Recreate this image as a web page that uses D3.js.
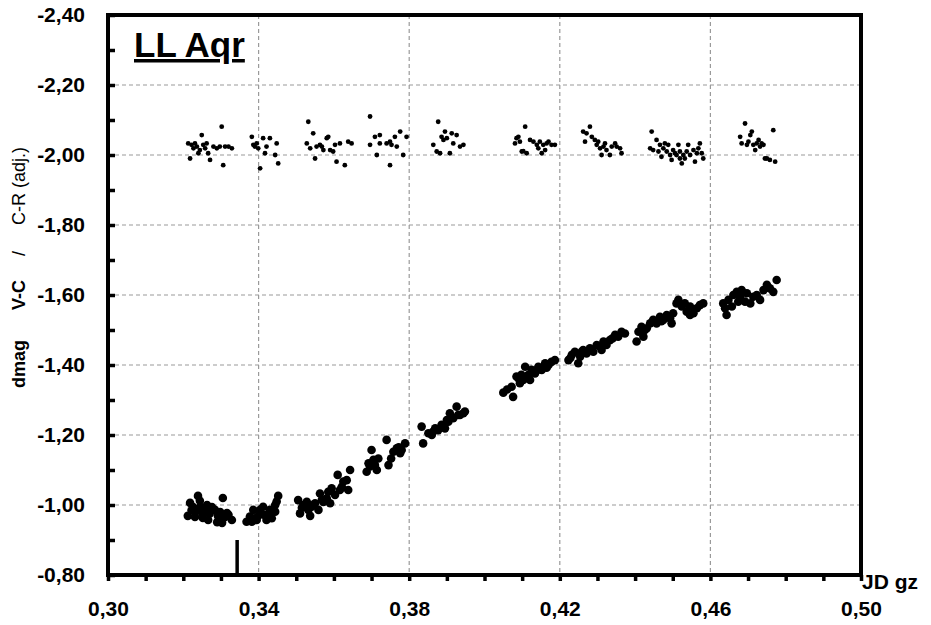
<!DOCTYPE html>
<html>
<head>
<meta charset="utf-8">
<script src="https://cdn.jsdelivr.net/npm/d3@7"></script>
<style>
  body { margin: 0; background: #fff; }
  svg { display: block; font-family: "Liberation Sans", Arial, sans-serif; }
</style>
</head>
<body>
<div id="chart"></div>
<script>
var svgWidth = 931;
var svgHeight = 625;

// plot area edges in pixels
var plot = { left: 108, right: 861, top: 15, bottom: 575 };

// tick values
var xTicks = [0.30, 0.31, 0.32, 0.33, 0.34, 0.35, 0.36, 0.37, 0.38, 0.39, 0.40,
              0.41, 0.42, 0.43, 0.44, 0.45, 0.46, 0.47, 0.48, 0.49, 0.50];
var xLabelTicks = [0.30, 0.34, 0.38, 0.42, 0.46, 0.50];
var yTicks = [-2.40, -2.30, -2.20, -2.10, -2.00, -1.90, -1.80, -1.70, -1.60,
              -1.50, -1.40, -1.30, -1.20, -1.10, -1.00, -0.90, -0.80];
var yLabelTicks = [-2.40, -2.20, -2.00, -1.80, -1.60, -1.40, -1.20, -1.00, -0.80];

// V-C (variable) measurements: [JD fraction, dmag]
var vcData = [
  [0.3239,-1.026],[0.3218,-1.006],[0.3226,-0.994],[0.3212,-0.969],[0.3236,-0.986],[0.3250,-0.977],
  [0.3263,-1.000],[0.3276,-0.994],[0.3266,-0.957],[0.3284,-0.986],[0.3292,-0.969],[0.3305,-1.020],
  [0.3303,-0.949],[0.3316,-0.977],[0.3329,-0.957],[0.3231,-0.966],[0.3252,-0.963],[0.3290,-0.951],
  [0.3222,-0.985],[0.3245,-0.995],[0.3258,-0.985],[0.3270,-0.975],[0.3298,-0.980],[0.3310,-0.965],
  [0.3320,-0.972],[0.3244,-1.012],
  [0.3368,-0.952],[0.3377,-0.967],[0.3386,-0.986],[0.3395,-0.957],[0.3404,-0.986],[0.3412,-0.995],
  [0.3417,-0.971],[0.3430,-0.986],[0.3435,-0.962],[0.3444,-0.981],[0.3452,-1.026],[0.3444,-1.000],
  [0.3382,-0.952],[0.3421,-0.957],[0.3400,-0.970],[0.3426,-0.975],[0.3390,-0.962],[0.3448,-1.010],
  [0.3505,-1.014],[0.3510,-0.976],[0.3519,-1.000],[0.3528,-1.009],[0.3532,-0.986],[0.3537,-0.969],
  [0.3541,-0.995],[0.3550,-1.005],[0.3559,-0.986],[0.3563,-1.033],[0.3572,-1.009],[0.3581,-1.019],
  [0.3585,-1.038],[0.3594,-1.048],[0.3590,-1.005],[0.3603,-1.029],[0.3610,-1.086],[0.3616,-1.043],
  [0.3625,-1.067],[0.3634,-1.071],[0.3638,-1.043],[0.3643,-1.100],[0.3621,-1.052],[0.3515,-0.992],
  [0.3545,-1.000],[0.3568,-1.015],
  [0.3687,-1.095],[0.3692,-1.119],[0.3700,-1.157],[0.3705,-1.129],[0.3709,-1.114],[0.3718,-1.133],
  [0.3714,-1.100],[0.3740,-1.186],[0.3745,-1.114],[0.3752,-1.133],[0.3758,-1.152],[0.3767,-1.162],
  [0.3776,-1.148],[0.3789,-1.176],[0.3780,-1.157],[0.3696,-1.110],[0.3772,-1.165],
  [0.3833,-1.224],[0.3837,-1.176],[0.3851,-1.205],[0.3864,-1.210],[0.3877,-1.214],[0.3886,-1.229],
  [0.3895,-1.219],[0.3904,-1.238],[0.3917,-1.248],[0.3930,-1.257],[0.3944,-1.262],[0.3869,-1.219],
  [0.3900,-1.243],[0.3908,-1.262],[0.3926,-1.281],[0.3935,-1.257],[0.3948,-1.267],[0.3860,-1.200],
  [0.3891,-1.224],
  [0.4050,-1.321],[0.4072,-1.338],[0.4076,-1.309],[0.4085,-1.367],[0.4094,-1.348],[0.4103,-1.357],
  [0.4108,-1.395],[0.4116,-1.371],[0.4125,-1.386],[0.4134,-1.376],[0.4143,-1.395],[0.4152,-1.386],
  [0.4161,-1.405],[0.4170,-1.400],[0.4178,-1.409],[0.4187,-1.414],[0.4090,-1.362],[0.4121,-1.357],
  [0.4060,-1.330],[0.4098,-1.372],[0.4139,-1.385],[0.4165,-1.392],
  [0.4223,-1.414],[0.4232,-1.429],[0.4240,-1.438],[0.4249,-1.405],[0.4254,-1.424],[0.4262,-1.443],
  [0.4271,-1.433],[0.4280,-1.448],[0.4289,-1.438],[0.4298,-1.457],[0.4307,-1.452],[0.4316,-1.467],
  [0.4324,-1.457],[0.4333,-1.471],[0.4347,-1.486],[0.4355,-1.481],[0.4364,-1.495],[0.4373,-1.490],
  [0.4258,-1.438],[0.4311,-1.443],[0.4228,-1.420],[0.4340,-1.476],
  [0.4404,-1.467],[0.4409,-1.495],[0.4417,-1.509],[0.4422,-1.481],[0.4431,-1.505],[0.4440,-1.519],
  [0.4448,-1.529],[0.4457,-1.519],[0.4466,-1.538],[0.4475,-1.529],[0.4484,-1.543],[0.4493,-1.533],
  [0.4501,-1.548],[0.4510,-1.576],[0.4515,-1.586],[0.4524,-1.567],[0.4532,-1.576],[0.4537,-1.552],
  [0.4546,-1.567],[0.4555,-1.548],[0.4564,-1.562],[0.4572,-1.571],[0.4581,-1.576],[0.4497,-1.519],
  [0.4546,-1.543],[0.4426,-1.500],[0.4470,-1.525],
  [0.4634,-1.576],[0.4639,-1.562],[0.4643,-1.543],[0.4648,-1.586],[0.4657,-1.567],[0.4661,-1.600],
  [0.4670,-1.609],[0.4679,-1.595],[0.4683,-1.614],[0.4692,-1.581],[0.4697,-1.605],[0.4706,-1.576],
  [0.4714,-1.595],[0.4723,-1.600],[0.4732,-1.586],[0.4741,-1.614],[0.4750,-1.629],[0.4758,-1.619],
  [0.4767,-1.609],[0.4776,-1.643],[0.4674,-1.581]
];

// C-R (check star) measurements, adjusted
var crData = [
  [0.3213,-2.033],[0.3222,-2.029],[0.3227,-2.019],[0.3236,-2.024],[0.3244,-2.014],[0.3249,-2.057],
  [0.3253,-2.029],[0.3262,-2.033],[0.3266,-2.005],[0.3271,-1.986],[0.3280,-2.024],[0.3289,-2.019],
  [0.3297,-2.024],[0.3302,-2.081],[0.3306,-1.971],[0.3311,-2.024],[0.3320,-2.024],[0.3329,-2.019],
  [0.3218,-1.990],[0.3240,-2.005],[0.3231,-2.033],[0.3258,-2.019],
  [0.3382,-2.052],[0.3386,-2.029],[0.3395,-2.033],[0.3399,-2.019],[0.3404,-1.962],[0.3412,-2.048],
  [0.3417,-2.005],[0.3421,-2.024],[0.3430,-2.048],[0.3444,-2.000],[0.3448,-2.033],[0.3452,-1.976],
  [0.3390,-2.024],
  [0.3532,-2.095],[0.3528,-2.033],[0.3537,-2.019],[0.3545,-2.062],[0.3550,-1.990],[0.3554,-2.024],
  [0.3563,-2.029],[0.3572,-2.014],[0.3581,-2.048],[0.3585,-2.052],[0.3590,-2.014],[0.3598,-2.010],
  [0.3603,-2.029],[0.3607,-1.981],[0.3616,-2.033],[0.3629,-1.971],[0.3638,-2.038],[0.3647,-2.033],
  [0.3568,-2.024],
  [0.3696,-2.110],[0.3696,-2.029],[0.3709,-2.052],[0.3714,-2.000],[0.3722,-2.033],[0.3740,-2.033],
  [0.3749,-2.038],[0.3749,-1.971],[0.3753,-2.029],[0.3762,-2.052],[0.3767,-2.024],[0.3776,-2.067],
  [0.3784,-2.000],[0.3793,-2.052],[0.3722,-2.057],
  [0.3864,-2.029],[0.3873,-2.010],[0.3877,-2.095],[0.3886,-2.052],[0.3891,-2.043],[0.3895,-2.067],
  [0.3900,-2.048],[0.3908,-2.005],[0.3913,-2.062],[0.3917,-2.033],[0.3926,-2.057],[0.3935,-2.024],
  [0.3944,-2.029],[0.3882,-2.005],
  [0.4081,-2.033],[0.4085,-2.048],[0.4090,-2.052],[0.4094,-2.038],[0.4099,-2.010],[0.4108,-2.081],
  [0.4112,-2.005],[0.4121,-2.043],[0.4130,-2.038],[0.4139,-2.029],[0.4143,-2.019],[0.4147,-2.038],
  [0.4152,-2.005],[0.4156,-2.029],[0.4161,-2.014],[0.4165,-2.033],[0.4170,-2.038],[0.4178,-2.029],
  [0.4187,-2.029],[0.4103,-2.011],
  [0.4262,-2.067],[0.4267,-2.038],[0.4280,-2.081],[0.4285,-2.052],[0.4293,-2.043],[0.4298,-2.029],
  [0.4302,-2.038],[0.4307,-2.019],[0.4311,-2.000],[0.4316,-2.024],[0.4324,-2.014],[0.4333,-2.000],
  [0.4338,-2.024],[0.4347,-2.033],[0.4351,-2.024],[0.4360,-2.019],[0.4364,-2.005],[0.4320,-2.033],
  [0.4271,-2.062],
  [0.4444,-2.067],[0.4440,-2.019],[0.4448,-2.014],[0.4457,-2.043],[0.4466,-2.029],[0.4470,-1.995],
  [0.4475,-2.019],[0.4479,-2.033],[0.4484,-2.010],[0.4488,-2.029],[0.4493,-2.000],[0.4497,-1.986],
  [0.4501,-2.014],[0.4506,-2.005],[0.4510,-2.000],[0.4515,-2.029],[0.4519,-2.010],[0.4524,-1.976],
  [0.4528,-2.000],[0.4532,-1.990],[0.4537,-2.010],[0.4541,-2.029],[0.4546,-2.000],[0.4555,-2.014],
  [0.4559,-1.981],[0.4564,-2.005],[0.4568,-2.019],[0.4572,-2.033],[0.4577,-2.005],[0.4581,-1.990],
  [0.4462,-2.010],[0.4519,-1.990],
  [0.4679,-2.052],[0.4683,-2.033],[0.4692,-2.090],[0.4697,-2.029],[0.4701,-2.038],[0.4706,-2.057],
  [0.4710,-2.067],[0.4714,-2.029],[0.4723,-2.033],[0.4728,-2.043],[0.4732,-2.024],[0.4736,-2.033],
  [0.4741,-2.029],[0.4745,-1.990],[0.4750,-1.990],[0.4758,-1.986],[0.4767,-2.071],[0.4772,-1.981],
  [0.4719,-2.014]
];

// marker line (minimum epoch)
var markerX = 0.3343;
var markerY = [-0.80, -0.90];

var svg = d3.select('#chart').append('svg')
    .attr('width', svgWidth)
    .attr('height', svgHeight);

var xScale = d3.scaleLinear().domain([0.30, 0.50]).range([plot.left, plot.right]);
var yScale = d3.scaleLinear().domain([-2.40, -0.80]).range([plot.top, plot.bottom]);

var locale = d3.formatLocale({ decimal: ",", thousands: ".", grouping: [3], currency: ["", ""], minus: "-" });
var fmt = locale.format(".2f");

// dashed grid
var grid = svg.append('g');
grid.selectAll('.vgrid')
    .data(xLabelTicks.slice(1, -1))
    .enter().append('line')
    .attr('x1', d => xScale(d)).attr('x2', d => xScale(d))
    .attr('y1', plot.top).attr('y2', plot.bottom)
    .attr('stroke', '#9a9a9a').attr('stroke-width', 1.2).attr('stroke-dasharray', '4,3');
grid.selectAll('.hgrid')
    .data(yLabelTicks.slice(1, -1))
    .enter().append('line')
    .attr('x1', plot.left).attr('x2', plot.right)
    .attr('y1', d => yScale(d)).attr('y2', d => yScale(d))
    .attr('stroke', '#9a9a9a').attr('stroke-width', 1.2).attr('stroke-dasharray', '4,3');

// x axis ticks (outward) and labels
var xAxis = svg.append('g')
    .attr('transform', `translate(0, ${plot.bottom})`)
    .call(d3.axisBottom(xScale).tickValues(xTicks).tickSize(6).tickFormat(''));
xAxis.select('.domain').remove();
xAxis.selectAll('line').attr('stroke', '#000').attr('stroke-width', 3.5);

var xLabels = svg.append('g')
    .attr('transform', `translate(0, ${plot.bottom})`)
    .call(d3.axisBottom(xScale).tickValues(xLabelTicks).tickSize(0).tickPadding(26).tickFormat(fmt));
xLabels.select('.domain').remove();
xLabels.selectAll('text')
    .attr('font-size', 21).attr('font-weight', 'bold').attr('fill', '#000')
    .attr('font-family', '"Liberation Sans", Arial, sans-serif');

// y axis ticks (inward) and labels
var yAxis = svg.append('g')
    .attr('transform', `translate(${plot.left}, 0)`)
    .call(d3.axisLeft(yScale).tickValues(yTicks).tickSize(-7).tickFormat(''));
yAxis.select('.domain').remove();
yAxis.selectAll('line').attr('stroke', '#000').attr('stroke-width', 3.5);

var yLabels = svg.append('g')
    .attr('transform', `translate(${plot.left}, 0)`)
    .call(d3.axisLeft(yScale).tickValues(yLabelTicks).tickSize(0).tickPadding(23).tickFormat(fmt));
yLabels.select('.domain').remove();
yLabels.selectAll('text')
    .attr('font-size', 21).attr('font-weight', 'bold').attr('fill', '#000')
    .attr('font-family', '"Liberation Sans", Arial, sans-serif');

// frame
svg.append('rect')
    .attr('x', plot.left).attr('y', plot.top)
    .attr('width', plot.right - plot.left).attr('height', plot.bottom - plot.top)
    .attr('fill', 'none').attr('stroke', '#000').attr('stroke-width', 4);

// marker line
svg.append('line')
    .attr('x1', xScale(markerX)).attr('x2', xScale(markerX))
    .attr('y1', yScale(markerY[0])).attr('y2', yScale(markerY[1]))
    .attr('stroke', '#000').attr('stroke-width', 3.5);

// points
svg.append('g').selectAll('circle')
    .data(crData)
    .enter().append('circle')
    .attr('cx', d => xScale(d[0]))
    .attr('cy', d => yScale(d[1]))
    .attr('r', 2.4)
    .attr('fill', '#000');

svg.append('g').selectAll('circle')
    .data(vcData)
    .enter().append('circle')
    .attr('cx', d => xScale(d[0]))
    .attr('cy', d => yScale(d[1]))
    .attr('r', 4.3)
    .attr('fill', '#000');

// title
svg.append('text')
    .attr('x', 134).attr('y', 57)
    .attr('font-size', 35).attr('font-weight', 'bold')
    .attr('text-decoration', 'underline')
    .text('LL Aqr');

// x axis title
svg.append('text')
    .attr('x', 862).attr('y', 589)
    .attr('font-size', 21).attr('font-weight', 'bold')
    .text('JD gz');

// y axis title
var yTitle = svg.append('text')
    .attr('transform', 'translate(25, 388) rotate(-90)')
    .attr('font-size', 18);
yTitle.append('tspan').attr('font-weight', 'bold').text('dmag');
yTitle.append('tspan').attr('dx', 30).attr('font-weight', 'bold').text('V-C');
yTitle.append('tspan').attr('dx', 24).text('/');
yTitle.append('tspan').attr('dx', 26).text('C-R (adj.)');
</script>
</body>
</html>
